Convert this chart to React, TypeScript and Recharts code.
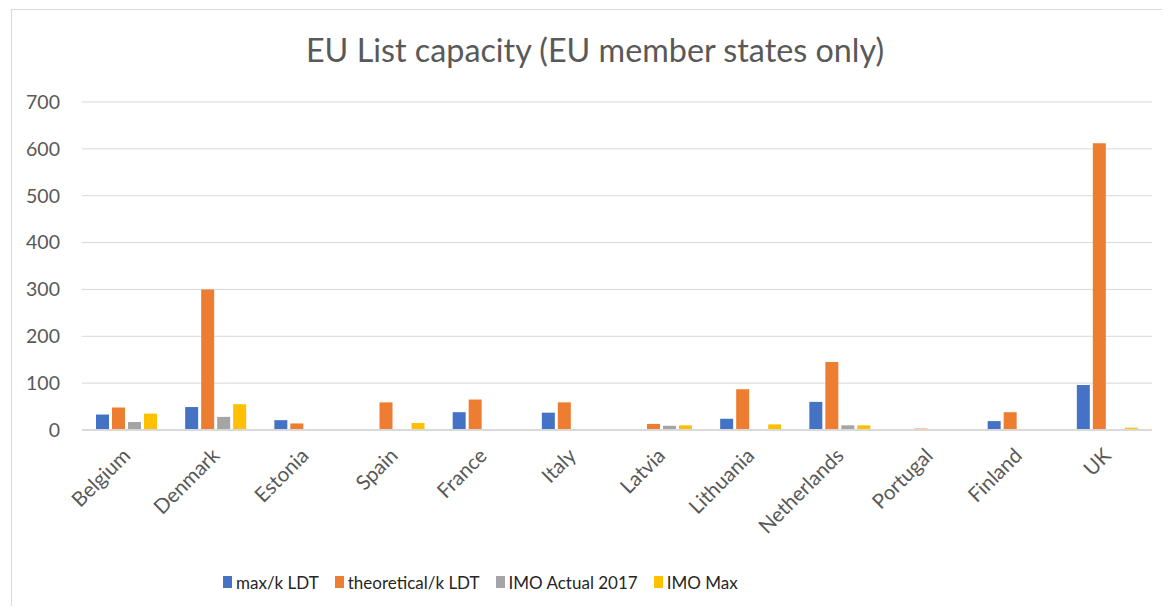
import React from 'react';
import { BarChart, Bar, XAxis, YAxis, CartesianGrid, Legend } from 'recharts';

const countries = ['Belgium', 'Denmark', 'Estonia', 'Spain', 'France', 'Italy', 'Latvia', 'Lithuania', 'Netherlands', 'Portugal', 'Finland', 'UK'];
const maxLDT = [33, 49, 21, 0, 38, 37, 0, 24, 60, 1, 19, 96];
const theoreticalLDT = [48, 300, 14, 59, 65, 59, 13, 87, 145, 3, 38, 612];
const imoActual2017 = [17, 28, 0, 2, 0, 0, 9, 0, 10, 0, 0, 1];
const imoMax = [35, 55, 2, 15, 2, 0, 10, 12, 10, 1, 0, 5];
const yTicks = [0, 100, 200, 300, 400, 500, 600, 700];

const seriesNames = ['max/k LDT', 'theoretical/k LDT', 'IMO Actual 2017', 'IMO Max'];
const seriesColors = ['#4472C4', '#ED7D31', '#A5A5A5', '#FFC000'];
const titleText = 'EU List capacity (EU member states only)';

const data = countries.map((c, i) => ({
  country: c,
  s0: maxLDT[i],
  s1: theoreticalLDT[i],
  s2: imoActual2017[i],
  s3: imoMax[i],
}));

const FONT = 'Lato, "Open Sans", sans-serif';

const XTick = (props: any) => {
  const { x, y, payload } = props;
  const ax = x + 5;
  const ay = y + 27;
  return (
    <text
      x={ax}
      y={ay}
      textAnchor="end"
      transform={`rotate(-45 ${ax} ${ay})`}
      fill="#595959"
      fontSize={20.5}
      fontFamily={FONT}
    >
      {payload.value}
    </text>
  );
};

const renderLegend = (props: any) => {
  const items = [...(props.payload || [])].sort(
    (a: any, b: any) => seriesNames.indexOf(a.value) - seriesNames.indexOf(b.value)
  );
  return (
    <div
      style={{
        display: 'flex',
        alignItems: 'center',
        height: 30,
        paddingLeft: 223,
        fontFamily: FONT,
        fontSize: 17,
        color: '#262626',
      }}
    >
      {items.map((p: any, i: number) => (
        <div key={i} style={{ display: 'flex', alignItems: 'center', marginRight: 16 }}>
          <svg width={9} height={12} style={{ marginRight: 4 }}>
            <rect width={9} height={12} fill={p.color} />
          </svg>
          <span>{p.value}</span>
        </div>
      ))}
    </div>
  );
};

export default function App() {
  return (
    <div
      style={{
        position: 'relative',
        width: 1170,
        height: 606,
        margin: '-8px 0 0 -8px',
        overflow: 'hidden',
        background: '#fff',
        fontFamily: FONT,
      }}
    >
      <div
        style={{
          position: 'absolute',
          left: 11,
          top: 9,
          width: 1300,
          height: 800,
          borderLeft: '1px solid #d9d9d9',
          borderTop: '1px solid #d9d9d9',
        }}
      />
      <svg style={{ position: 'absolute', left: 0, top: 0 }} width={1170} height={606}>
        <text x={595} y={62} textAnchor="middle" fontSize={32.3} fill="#595959" fontFamily={FONT}>
          {titleText}
        </text>
      </svg>
      <div style={{ position: 'absolute', left: 0, top: 0 }}>
        <BarChart
          width={1170}
          height={606}
          data={data}
          margin={{ top: 102, right: 18, left: 0, bottom: 9 }}
          barCategoryGap={14}
          barGap={3}
        >
          <CartesianGrid vertical={false} stroke="#d9d9d9" strokeWidth={1} />
          <XAxis
            dataKey="country"
            interval={0}
            height={137}
            tickLine={false}
            tickSize={0}
            tickMargin={0}
            axisLine={{ stroke: '#d9d9d9', strokeWidth: 2 }}
            tick={<XTick />}
          />
          <YAxis
            domain={[0, 700]}
            ticks={yTicks}
            width={82}
            axisLine={false}
            tickLine={false}
            tickSize={0}
            tickMargin={22}
            tick={{ fill: '#595959', fontSize: 19.5, fontFamily: FONT }}
          />
          <Legend verticalAlign="bottom" content={renderLegend} wrapperStyle={{ height: 30 }} />
          <Bar dataKey="s0" name={seriesNames[0]} fill={seriesColors[0]} isAnimationActive={false} />
          <Bar dataKey="s1" name={seriesNames[1]} fill={seriesColors[1]} isAnimationActive={false} />
          <Bar dataKey="s2" name={seriesNames[2]} fill={seriesColors[2]} isAnimationActive={false} />
          <Bar dataKey="s3" name={seriesNames[3]} fill={seriesColors[3]} isAnimationActive={false} />
        </BarChart>
      </div>
    </div>
  );
}
